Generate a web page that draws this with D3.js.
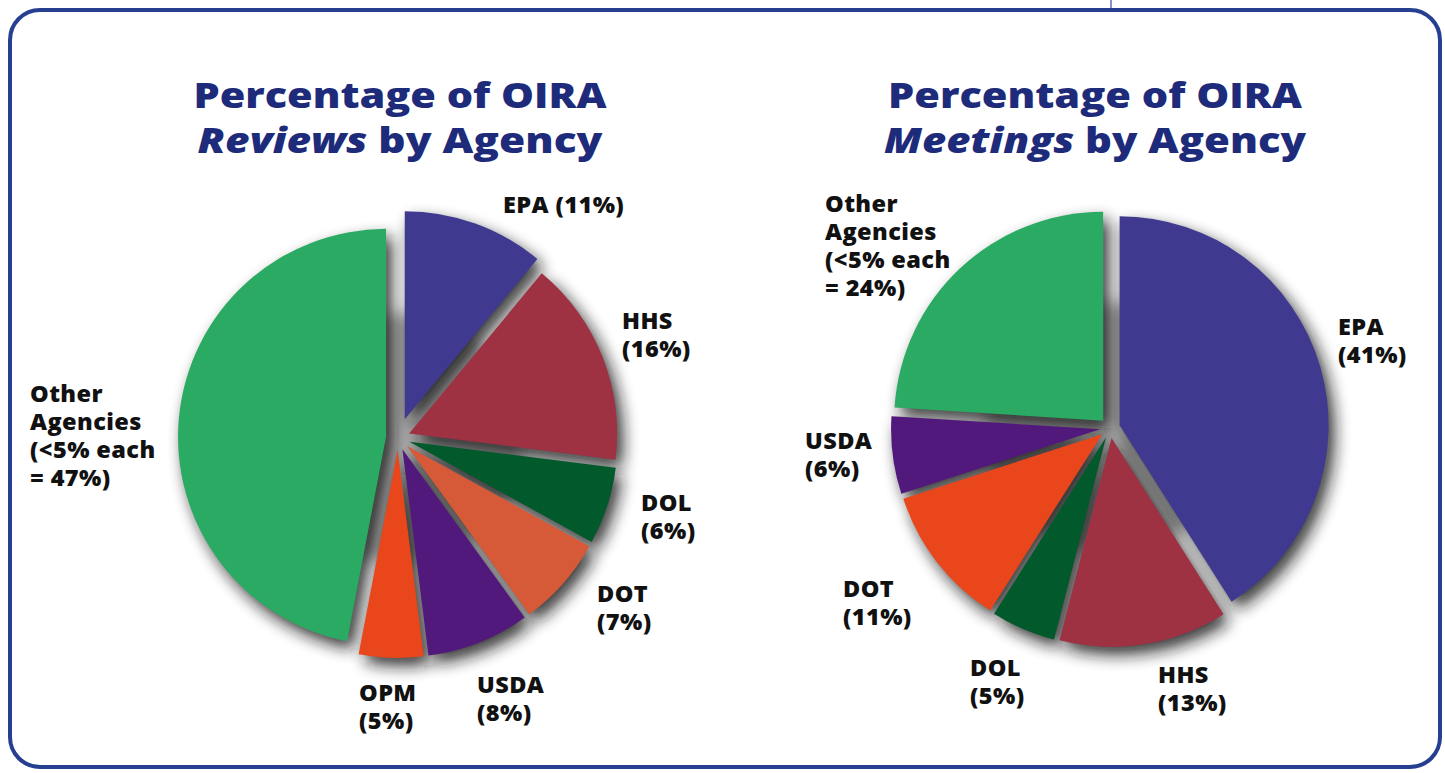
<!DOCTYPE html>
<html>
<head>
<meta charset="utf-8">
<script src="https://cdn.jsdelivr.net/npm/d3@7"></script>
<style>
  html, body { margin: 0; padding: 0; background: #ffffff; }
  svg { display: block; }
</style>
</head>
<body>
<svg id="chart" width="1445" height="773"></svg>
<script>
// ---------------- DATA ----------------
const reviewAgencies = ["EPA", "HHS", "DOL", "DOT", "USDA", "OPM", "Other"];
const reviewShares   = [11, 16, 6, 7, 8, 5, 47];
const reviewLabels   = [
  ["EPA (11%)"], ["HHS", "(16%)"], ["DOL", "(6%)"], ["DOT", "(7%)"],
  ["USDA", "(8%)"], ["OPM", "(5%)"], ["Other", "Agencies", "(<5% each", "= 47%)"]
];
const meetingAgencies = ["EPA", "HHS", "DOL", "DOT", "USDA", "Other"];
const meetingShares   = [41, 13, 5, 11, 6, 24];
const meetingLabels   = [
  ["EPA", "(41%)"], ["HHS", "(13%)"], ["DOL", "(5%)"], ["DOT", "(11%)"],
  ["USDA", "(6%)"], ["Other", "Agencies", "(<5% each", "= 24%)"]
];
const titleLine1 = "Percentage of OIRA";
const reviewTitleEm = "Reviews";
const meetingTitleEm = "Meetings";
const titleRest = " by Agency";

// ---------------- STYLE / LAYOUT ----------------
const navy = "#1e2b7b";
const colorsReview = {
  EPA: "#3f3a8f", HHS: "#9e3142", DOL: "#02592c", DOT: "#d65a37",
  USDA: "#52197d", OPM: "#e9461c", Other: "#2aaa62"
};
const colorsMeeting = {
  EPA: "#3f3a8f", HHS: "#9e3142", DOL: "#02592c", DOT: "#e9461c",
  USDA: "#52197d", Other: "#2aaa62"
};
const labelFont = "'Open Sans', 'DejaVu Sans', sans-serif";
const lineGap = 28;

const svg = d3.select("#chart");
const defs = svg.append("defs");
const blur = defs.append("filter").attr("id", "shadow")
  .attr("x", "-30%").attr("y", "-30%").attr("width", "160%").attr("height", "160%");
blur.append("feGaussianBlur").attr("stdDeviation", 8);

// Frame
svg.append("rect")
  .attr("x", 10).attr("y", 10).attr("width", 1430).attr("height", 757)
  .attr("rx", 30).attr("ry", 30)
  .attr("fill", "none").attr("stroke", "#263f90").attr("stroke-width", 4);
svg.append("line")
  .attr("x1", 1111).attr("x2", 1111).attr("y1", 0).attr("y2", 8)
  .attr("stroke", "#8a93c4").attr("stroke-width", 2);

function drawTitle(cx, em, widths) {
  svg.append("text")
    .attr("x", cx).attr("y", 108).attr("text-anchor", "middle")
    .attr("font-family", labelFont).attr("font-weight", 800)
    .attr("font-size", 35).attr("fill", navy)
    .attr("textLength", widths[0]).attr("lengthAdjust", "spacingAndGlyphs")
    .text(titleLine1);
  const t2 = svg.append("text")
    .attr("x", cx).attr("y", 153).attr("text-anchor", "middle")
    .attr("font-family", labelFont).attr("font-weight", 800)
    .attr("font-size", 35).attr("fill", navy)
    .attr("textLength", widths[1]).attr("lengthAdjust", "spacingAndGlyphs");
  t2.append("tspan").attr("font-style", "italic").text(em);
  t2.append("tspan").text(titleRest);
}

function drawPie(agencies, shares, colors, cx, cy, r, explode) {
  const data = agencies.map((a, i) => ({ agency: a, value: shares[i] }));
  const pie = d3.pie().value(d => d.value).sort(null);
  const arcs = pie(data);
  const arc = d3.arc().innerRadius(0).outerRadius(r);
  const g = svg.append("g").attr("transform", `translate(${cx},${cy})`);
  const off = d => {
    const m = (d.startAngle + d.endAngle) / 2;
    const e = explode[d.data.agency] || explode.default;
    return [e * Math.sin(m), -e * Math.cos(m)];
  };
  // gap fill behind slices
  g.append("circle").attr("r", r * 0.6).attr("fill", "#a8a8a8")
    .attr("filter", "url(#shadow)");
  // shadows
  g.append("g").selectAll("path").data(arcs).join("path")
    .attr("d", arc)
    .attr("transform", d => { const o = off(d); return `translate(${o[0] + 6},${o[1] + 8})`; })
    .attr("fill", "#151515").attr("opacity", 0.85)
    .attr("filter", "url(#shadow)");
  // slices
  g.append("g").selectAll("path").data(arcs).join("path")
    .attr("d", arc)
    .attr("transform", d => { const o = off(d); return `translate(${o[0]},${o[1]})`; })
    .attr("fill", d => colors[d.data.agency]);
  return arcs;
}

function drawLabel(lines, x, y) {
  const t = svg.append("text")
    .attr("font-family", labelFont).attr("font-weight", 800)
    .attr("font-size", 23.5).attr("letter-spacing", 0.4).attr("fill", "#111");
  lines.forEach((ln, i) => {
    t.append("tspan").attr("x", x).attr("y", y + i * lineGap).text(ln);
  });
}

// Titles
drawTitle(400, reviewTitleEm, [413, 405]);
drawTitle(1095, meetingTitleEm, [414, 422]);

// Pies
drawPie(reviewAgencies, reviewShares, colorsReview, 398, 438, 208,
  { default: 12, EPA: 20 });
drawPie(meetingAgencies, meetingShares, colorsMeeting, 1110, 428, 209,
  { default: 10 });

// Labels (anchor = left x, first baseline)
const reviewLabelPos = [[503, 213], [622, 329], [641, 511], [597, 602], [477, 693], [359, 701], [30, 402]];
const meetingLabelPos = [[1338, 335], [1158, 683], [970, 676], [843, 597], [805, 449], [825, 212]];
reviewLabels.forEach((l, i) => drawLabel(l, reviewLabelPos[i][0], reviewLabelPos[i][1]));
meetingLabels.forEach((l, i) => drawLabel(l, meetingLabelPos[i][0], meetingLabelPos[i][1]));
</script>
</body>
</html>
